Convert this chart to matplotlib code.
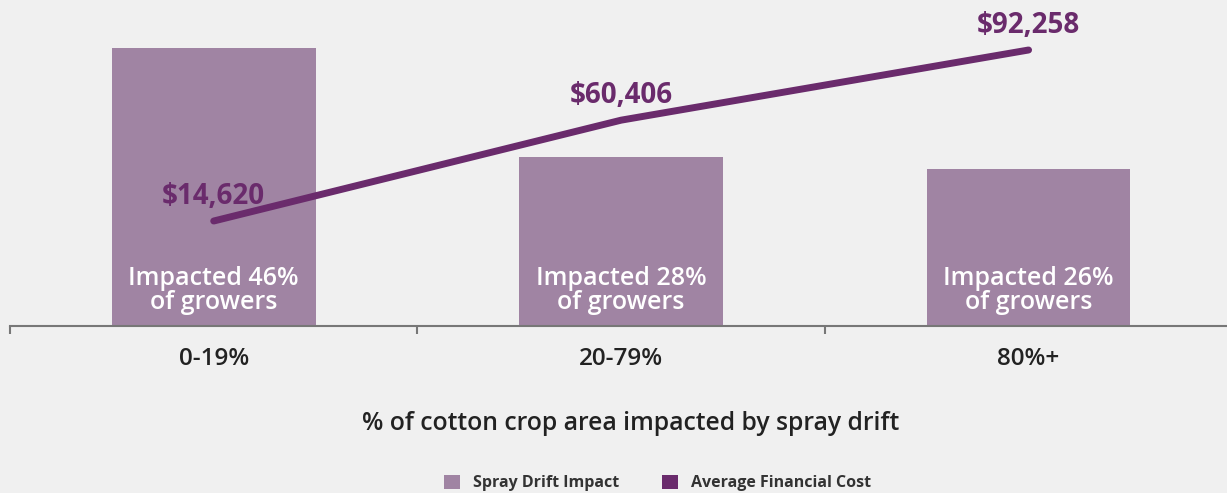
import matplotlib.pyplot as plt
from matplotlib.patches import Patch

# data
categories = ['0-19%', '20-79%', '80%+']
growers_pct = [46, 28, 26]
avg_cost = [14620, 60406, 92258]
bar_labels = ['Impacted 46%\nof growers', 'Impacted 28%\nof growers', 'Impacted 26%\nof growers']

bar_col = '#a084a3'
line_col = '#6a2b6c'
bg = '#f0f0f0'
txt = '#222222'
fnt = ['Open Sans', 'DejaVu Sans']

W, H = 1227, 493
fig = plt.figure(figsize=(W / 100, H / 100), dpi=100, facecolor=bg)
ax = fig.add_axes([10 / W, 1 - 326 / H, 1 - 10 / W, 326 / H])
ax.set_facecolor(bg)

x = list(range(len(categories)))
ax.bar(x, growers_pct, width=0.5, color=bar_col, zorder=2)
ax.set_xlim(-0.5, 2.487)
ax.set_ylim(0, 53.9)

for i, lab in enumerate(bar_labels):
    ax.text(x[i], 5.9, lab, ha='center', va='center', color='white',
            fontsize=18, fontweight='semibold', family=fnt, linespacing=0.98, zorder=3)

for s in ['top', 'right', 'left']:
    ax.spines[s].set_visible(False)
ax.spines['bottom'].set_color('#777777')
ax.spines['bottom'].set_linewidth(1.5)
ax.set_yticks([])
ax.set_xticks(x)
ax.set_xticklabels(categories, fontsize=17.5, fontweight='semibold', family=fnt, color=txt)
ax.tick_params(axis='x', which='major', length=0, pad=15)
ax.set_xticks([-0.5, 0.5, 1.5], minor=True)
ax.tick_params(axis='x', which='minor', length=6, width=1.5, color='#777777')
ax.set_xlabel('% of cotton crop area impacted by spray drift', fontsize=17.8,
              fontweight='semibold', family=fnt, color=txt, va='center')
ax.xaxis.set_label_coords(0.51, -0.30)

ax2 = ax.twinx()
ax2.set_ylim(-33050, 114960)
ax2.axis('off')
ax2.plot(x, avg_cost, color=line_col, lw=5, solid_capstyle='round', zorder=4)
for i, v in enumerate(avg_cost):
    ax2.annotate('${:,}'.format(v), (x[i], v), xytext=(0, 17.5), textcoords='offset points',
                 ha='center', va='center', fontsize=20, fontweight='bold', family=fnt,
                 color=line_col)

handles = [Patch(facecolor=bar_col, label='Spray Drift Impact'),
           Patch(facecolor=line_col, label='Average Financial Cost')]
leg = fig.legend(handles=handles, loc='center', bbox_to_anchor=(0.536, 0.02), ncol=2,
                 frameon=False, prop={'family': fnt, 'weight': 'bold', 'size': 11.5},
                 handlelength=1.0, handleheight=1.0, handletextpad=0.8, columnspacing=2.7)
for t in leg.get_texts():
    t.set_color('#333333')

fig.savefig('out.png', dpi=100, facecolor=bg)
